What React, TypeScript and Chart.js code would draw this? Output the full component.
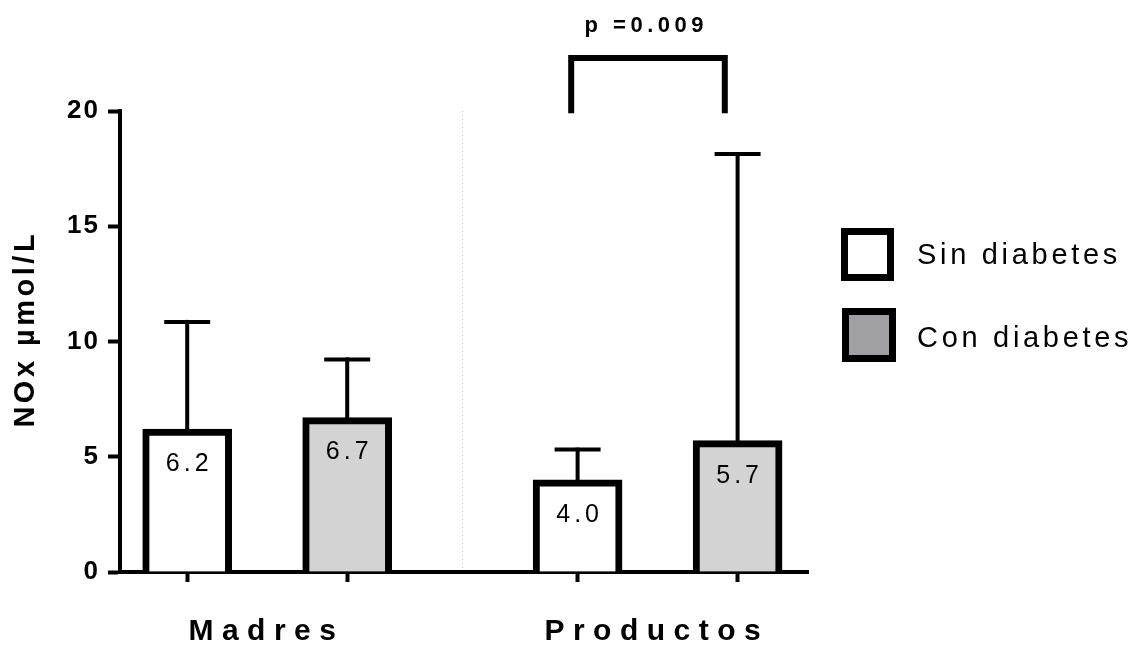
import React, { useEffect, useRef } from "react";
import { Chart, registerables } from "chart.js";

Chart.register(...registerables);

// ---- data ----
const groups = ["Madres", "Productos"];
const seriesNames = ["Sin diabetes", "Con diabetes"];
const sinValues = [6.2, 4.0];
const conValues = [6.7, 5.7];
const sinSD = [4.65, 1.31];
const conSD = [2.52, 12.43];
const yTicks = [0, 5, 10, 15, 20];
const pLabel = "p =0.009";

// ---- layout on the linear x axis (axis units) ----
const sinX = [0.42, 2.86];
const conX = [1.42, 3.86];
const X_MAX = 4.3;
const DIVIDER_X = 2.14;
const bracketX = [2.82, 3.78];
const bracketY = [19.9, 22.3];

const FONT = '"Liberation Sans", Arial, sans-serif';

function spacedText(
  ctx: CanvasRenderingContext2D,
  text: string,
  x: number,
  y: number,
  font: string,
  spacing: number,
  align: CanvasTextAlign = "center"
) {
  ctx.save();
  ctx.font = font;
  (ctx as any).letterSpacing = spacing + "px";
  ctx.textAlign = align;
  ctx.textBaseline = "middle";
  ctx.fillStyle = "#000";
  const dx = align === "center" ? spacing / 2 : align === "right" ? spacing : 0;
  ctx.fillText(text, x + dx, y);
  ctx.restore();
}

const overlayPlugin = {
  id: "overlay",
  beforeDraw(chart: any) {
    chart.ctx.letterSpacing = "2px";
  },
  afterDraw(chart: any) {
    const ctx: CanvasRenderingContext2D = chart.ctx;
    const xs = chart.scales.x;
    const ys = chart.scales.y;
    const area = chart.chartArea;

    // dotted divider
    ctx.save();
    ctx.strokeStyle = "#c8c8c8";
    ctx.lineWidth = 1;
    ctx.setLineDash([1, 3]);
    const dx = Math.round(xs.getPixelForValue(DIVIDER_X)) + 0.5;
    ctx.beginPath();
    ctx.moveTo(dx, area.top);
    ctx.lineTo(dx, area.bottom - 2);
    ctx.stroke();
    ctx.restore();

    // error bars
    const series = [
      { xs: sinX, v: sinValues, sd: sinSD },
      { xs: conX, v: conValues, sd: conSD },
    ];
    ctx.save();
    ctx.strokeStyle = "#000";
    ctx.lineWidth = 4;
    ctx.lineCap = "butt";
    series.forEach((s) => {
      s.v.forEach((val, i) => {
        const px = xs.getPixelForValue(s.xs[i]);
        const y0 = ys.getPixelForValue(val) + 4;
        const y1 = ys.getPixelForValue(val + s.sd[i]);
        ctx.beginPath();
        ctx.moveTo(px, y0);
        ctx.lineTo(px, y1 - 2);
        ctx.stroke();
        ctx.beginPath();
        ctx.moveTo(px - 23, y1);
        ctx.lineTo(px + 23, y1);
        ctx.stroke();
      });
    });
    ctx.restore();

    // value labels in bars
    series.forEach((s) => {
      s.v.forEach((val, i) => {
        const px = xs.getPixelForValue(s.xs[i]);
        const py = ys.getPixelForValue(val) + 35;
        spacedText(ctx, val.toFixed(1), px, py, `25px ${FONT}`, 4);
      });
    });

    // group labels
    groups.forEach((g, i) => {
      const cx = xs.getPixelForValue((sinX[i] + conX[i]) / 2);
      spacedText(ctx, g, cx - 5, 632, `bold 30px ${FONT}`, 8.5);
    });

    // significance bracket
    const bx0 = xs.getPixelForValue(bracketX[0]);
    const bx1 = xs.getPixelForValue(bracketX[1]);
    const by0 = ys.getPixelForValue(bracketY[0]);
    const by1 = ys.getPixelForValue(bracketY[1]);
    ctx.save();
    ctx.strokeStyle = "#000";
    ctx.lineWidth = 6;
    ctx.lineJoin = "miter";
    ctx.lineCap = "butt";
    ctx.beginPath();
    ctx.moveTo(bx0, by0);
    ctx.lineTo(bx0, by1);
    ctx.lineTo(bx1, by1);
    ctx.lineTo(bx1, by0);
    ctx.stroke();
    ctx.restore();
    spacedText(ctx, pLabel, (bx0 + bx1) / 2 - 4, 26, `bold 22px ${FONT}`, 4.5);

    // legend
    const legend = [
      { name: seriesNames[0], fill: "#ffffff", x: 841, y: 228, w: 53, h: 53, ty: 256 },
      { name: seriesNames[1], fill: "#a09fa4", x: 842, y: 308, w: 54, h: 54, ty: 339 },
    ];
    legend.forEach((l) => {
      ctx.save();
      ctx.fillStyle = "#000";
      ctx.fillRect(l.x, l.y, l.w, l.h);
      ctx.fillStyle = l.fill;
      ctx.fillRect(l.x + 7, l.y + 7, l.w - 14, l.h - 14);
      ctx.restore();
      spacedText(ctx, l.name, 917, l.ty, `29px ${FONT}`, 3.7, "left");
    });

    // y axis title
    ctx.save();
    ctx.translate(26, 331);
    ctx.rotate(-Math.PI / 2);
    spacedText(ctx, "NOx µmol/L", 0, 0, `bold 29px ${FONT}`, 3.5);
    ctx.restore();
  },
};

export default function App() {
  const ref = useRef<HTMLCanvasElement | null>(null);

  useEffect(() => {
    document.body.style.margin = "0";
    const canvas = ref.current;
    if (!canvas) return;
    const chart = new Chart(canvas, {
      type: "bar",
      data: {
        datasets: [
          {
            label: seriesNames[0],
            data: sinX.map((x, i) => ({ x, y: sinValues[i] })),
            backgroundColor: "#ffffff",
            borderColor: "#000000",
            borderWidth: 7,
            barThickness: 89,
            grouped: false,
          } as any,
          {
            label: seriesNames[1],
            data: conX.map((x, i) => ({ x, y: conValues[i] })),
            backgroundColor: "#d3d3d3",
            borderColor: "#000000",
            borderWidth: 7,
            barThickness: 89,
            grouped: false,
          } as any,
        ],
      },
      options: {
        responsive: false,
        animation: false,
        devicePixelRatio: 1,
        layout: { padding: { top: 111, right: 330, bottom: 0, left: 0 } },
        plugins: {
          legend: { display: false },
          tooltip: { enabled: false },
        },
        scales: {
          x: {
            type: "linear",
            min: 0,
            max: X_MAX,
            offset: false,
            afterFit: (s: any) => {
              s.height = 80;
            },
            afterBuildTicks: (s: any) => {
              s.ticks = [...sinX, ...conX].sort((a, b) => a - b).map((v) => ({ value: v }));
            },
            ticks: { display: false },
            grid: {
              offset: false,
              drawOnChartArea: false,
              drawTicks: true,
              tickLength: 10,
              tickWidth: 4,
              tickColor: "#000",
              color: "#000",
            },
            border: { display: true, width: 4, color: "#000" },
          },
          y: {
            type: "linear",
            min: 0,
            max: 20,
            afterFit: (s: any) => {
              s.width = 120;
            },
            afterBuildTicks: (s: any) => {
              s.ticks = yTicks.map((v) => ({ value: v }));
            },
            ticks: {
              color: "#000",
              padding: 8,
              font: { family: FONT, size: 26, weight: "bold" },
            },
            grid: {
              offset: false,
              drawOnChartArea: false,
              drawTicks: true,
              tickLength: 12,
              tickWidth: 4,
              tickColor: "#000",
              color: "#000",
            },
            border: { display: true, width: 4, color: "#000" },
          },
        },
      } as any,
      plugins: [overlayPlugin],
    });
    return () => chart.destroy();
  }, []);

  return (
    <div style={{ position: "absolute", left: 0, top: 0, width: 1138, height: 652, background: "#fff" }}>
      <canvas ref={ref} width={1138} height={652} />
    </div>
  );
}
